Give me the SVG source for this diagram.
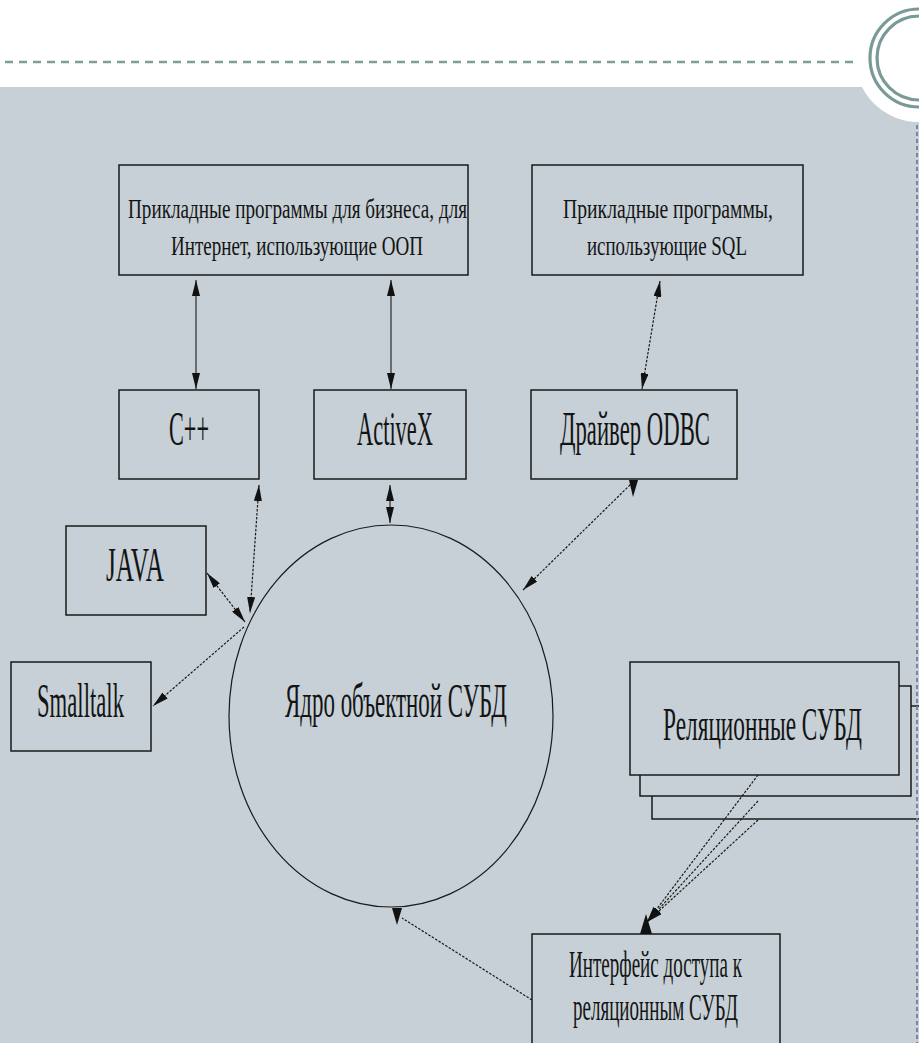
<svg xmlns="http://www.w3.org/2000/svg" width="919" height="1043" viewBox="0 0 919 1043">
<defs>
<style>
.box{fill:#c6d0d6;stroke:#1a1a1a;stroke-width:1.5}
.t{font-family:"Liberation Serif","Times New Roman",serif;fill:#141414}
.s{fill:none;stroke:#1a1a1a;stroke-width:1.1}
.d{fill:none;stroke:#1a1a1a;stroke-width:1.2;stroke-dasharray:2.5 1.5}
.ah{fill:#111}
</style>
<marker id="arr" viewBox="0 0 16 8" refX="16" refY="4" markerWidth="16" markerHeight="8" markerUnits="userSpaceOnUse" orient="auto-start-reverse">
<path d="M0,0 L16,4 L0,8 z" fill="#111"/>
</marker>
</defs>

<g id="background">
<rect x="0" y="0" width="919" height="1043" fill="#ffffff"/>
<rect x="0" y="87" width="919" height="956" fill="#c6d0d6"/>
<circle cx="919" cy="58" r="64" fill="#ffffff"/>
<circle cx="919" cy="58" r="49" fill="none" stroke="#7a9a98" stroke-width="3.2"/>
<circle cx="919" cy="58" r="42" fill="none" stroke="#7a9a98" stroke-width="3.2"/>
<line x1="5" y1="62" x2="853" y2="62" stroke="#7f9c9c" stroke-width="2.5" stroke-dasharray="8 6"/>
</g>

<g id="node-apps-oop">
<rect class="box" x="119" y="165" width="349" height="110"/>
<text class="t" transform="translate(128,218) scale(1,1.385)" font-size="19.5" textLength="339" lengthAdjust="spacingAndGlyphs">Прикладные программы для бизнеса, для</text>
<text class="t" transform="translate(171,255) scale(1,1.385)" font-size="19.5" textLength="252" lengthAdjust="spacingAndGlyphs">Интернет, использующие ООП</text>
</g>

<g id="node-apps-sql">
<rect class="box" x="532" y="165" width="271" height="110"/>
<text class="t" transform="translate(563,218) scale(1,1.385)" font-size="19.5" textLength="210" lengthAdjust="spacingAndGlyphs">Прикладные программы,</text>
<text class="t" transform="translate(587,255) scale(1,1.385)" font-size="19.5" textLength="160" lengthAdjust="spacingAndGlyphs">использующие SQL</text>
</g>

<g id="node-cpp">
<rect class="box" x="119" y="390" width="140" height="89"/>
<text class="t" transform="translate(169,445) scale(1,2)" font-size="24" textLength="40" lengthAdjust="spacingAndGlyphs">C++</text>
</g>

<g id="node-activex">
<rect class="box" x="314" y="390" width="152" height="89"/>
<text class="t" transform="translate(357,445) scale(1,2)" font-size="24" textLength="76" lengthAdjust="spacingAndGlyphs">ActiveX</text>
</g>

<g id="node-odbc">
<rect class="box" x="531" y="390" width="206" height="89"/>
<text class="t" transform="translate(560,445) scale(1,2)" font-size="24" textLength="150" lengthAdjust="spacingAndGlyphs">Драйвер ODBC</text>
</g>

<g id="node-java">
<rect class="box" x="66" y="526" width="140" height="89"/>
<text class="t" transform="translate(106,581) scale(1,2)" font-size="24" textLength="58" lengthAdjust="spacingAndGlyphs">JAVA</text>
</g>

<g id="node-smalltalk">
<rect class="box" x="11" y="662" width="140" height="89"/>
<text class="t" transform="translate(37,717) scale(1,2)" font-size="24" textLength="87" lengthAdjust="spacingAndGlyphs">Smalltalk</text>
</g>

<g id="node-core">
<ellipse cx="391" cy="716" rx="162" ry="191" fill="none" stroke="#1a1a1a" stroke-width="1.2"/>
<text class="t" transform="translate(285,717) scale(1,2)" font-size="24" textLength="222" lengthAdjust="spacingAndGlyphs">Ядро объектной СУБД</text>
</g>

<g id="node-relational">
<rect class="box" x="652" y="706" width="280" height="113"/>
<rect class="box" x="640" y="686" width="271" height="110"/>
<rect class="box" x="630" y="662" width="269" height="113"/>
<text class="t" transform="translate(663,740) scale(1,2)" font-size="23.5" textLength="199" lengthAdjust="spacingAndGlyphs">Реляционные СУБД</text>
</g>

<g id="node-interface">
<rect class="box" x="532" y="934" width="248" height="130"/>
<text class="t" transform="translate(569,977) scale(1,2)" font-size="19" textLength="173" lengthAdjust="spacingAndGlyphs">Интерфейс доступа к</text>
<text class="t" transform="translate(573,1020) scale(1,2)" font-size="19" textLength="165" lengthAdjust="spacingAndGlyphs">реляционным СУБД</text>
</g>

<g id="connectors">
<line class="s" x1="196" y1="280" x2="196" y2="389" marker-start="url(#arr)" marker-end="url(#arr)"/>
<line class="s" x1="391" y1="280" x2="391" y2="389" marker-start="url(#arr)" marker-end="url(#arr)"/>
<line class="d" x1="660" y1="281" x2="642" y2="389" marker-start="url(#arr)" marker-end="url(#arr)"/>
<line class="s" x1="390" y1="485" x2="390" y2="523" marker-start="url(#arr)" marker-end="url(#arr)"/>
<line class="d" x1="633" y1="482" x2="523" y2="590" marker-end="url(#arr)"/>
<polygon class="ah" points="629,480 638,480 633,497"/>
<line class="d" x1="259" y1="485" x2="250" y2="613" marker-start="url(#arr)" marker-end="url(#arr)"/>
<line class="d" x1="207" y1="573" x2="245" y2="622" marker-start="url(#arr)" marker-end="url(#arr)"/>
<line class="d" x1="244" y1="627" x2="153" y2="706" marker-end="url(#arr)"/>
<line class="d" x1="758" y1="775" x2="647" y2="922" marker-end="url(#arr)"/>
<line class="d" x1="758" y1="801" x2="647" y2="922" marker-end="url(#arr)"/>
<line class="d" x1="758" y1="820" x2="647" y2="922" marker-end="url(#arr)"/>
<polygon class="ah" points="640,934 652,934 646,914"/>
<line class="d" x1="532" y1="1000" x2="402" y2="918"/>
<polygon class="ah" points="392,908 402,908 397,925"/>
</g>

<g id="frame-edge">
<line x1="917" y1="125" x2="917" y2="1043" stroke="#6d7ea0" stroke-width="1.8" stroke-dasharray="4 3"/>
</g>
</svg>
